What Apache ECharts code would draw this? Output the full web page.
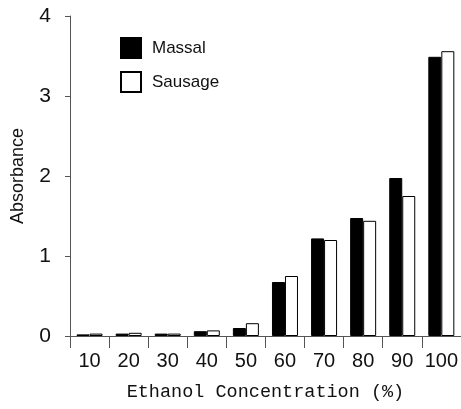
<!DOCTYPE html>
<html><head><meta charset="utf-8">
<script src="https://cdn.jsdelivr.net/npm/echarts@6/dist/echarts.min.js"></script>
<style>html,body{margin:0;padding:0;background:#fff}#c{width:461px;height:409px}</style>
</head><body><div id="c"></div>
<script>
const categories = ['10','20','30','40','50','60','70','80','90','100'];
const massal  = [0.02, 0.03, 0.03, 0.06, 0.10, 0.675, 1.22, 1.475, 1.975, 3.49];
const sausage = [0.03, 0.04, 0.03, 0.07, 0.16, 0.75, 1.20, 1.44, 1.75, 3.56];
const yTicks = [0, 1, 2, 3, 4];

const chart = echarts.init(document.getElementById('c'), null, {renderer:'canvas'});
chart.setOption({
  animation:false,
  backgroundColor:'#fff',
  grid:{left:70,right:0,top:16,bottom:73},
  legend:{
    orient:'vertical', left:115, top:32, itemWidth:20, itemHeight:20, itemGap:12,
    textStyle:{fontFamily:'Liberation Sans Narrow, Arial, Liberation Sans', fontSize:17, color:'#111', padding:[0,0,0,6]},
    data:[{name:'Massal', icon:'rect'},{name:'Sausage', icon:'rect'}]
  },
  xAxis:{
    type:'category', data:categories,
    name:'Ethanol Concentration (%)', nameLocation:'middle', nameGap:47,
    nameTextStyle:{fontFamily:'Liberation Mono, DejaVu Sans Mono', fontSize:18.5, color:'#111'},
    axisLine:{lineStyle:{color:'#555',width:1}},
    axisTick:{show:true, length:12, interval:0, lineStyle:{color:'#555'}},
    axisLabel:{margin:15, interval:0, hideOverlap:false, fontFamily:'Arial, Liberation Sans', fontSize:20, color:'#111'}
  },
  yAxis:{
    type:'value', min:0, max:4, interval:1,
    name:'Absorbance', nameLocation:'middle', nameGap:43,
    nameTextStyle:{fontFamily:'Arial, Liberation Sans', fontSize:18, color:'#111'},
    axisLine:{show:true, lineStyle:{color:'#555',width:1}},
    axisTick:{show:true, length:5, lineStyle:{color:'#555'}},
    splitLine:{show:false},
    axisLabel:{margin:19, fontFamily:'Arial, Liberation Sans', fontSize:21, color:'#111',
      formatter:v=>yTicks.includes(v)?String(v):''}
  },
  series:[
    {name:'Massal', type:'bar', data:massal, barWidth:13, barGap:'0%',
     itemStyle:{color:'#000', borderColor:'#000', borderWidth:1}},
    {name:'Sausage', type:'bar', data:sausage, barWidth:13,
     itemStyle:{color:'#fff', borderColor:'#000', borderWidth:1}}
  ]
});
</script></body></html>
